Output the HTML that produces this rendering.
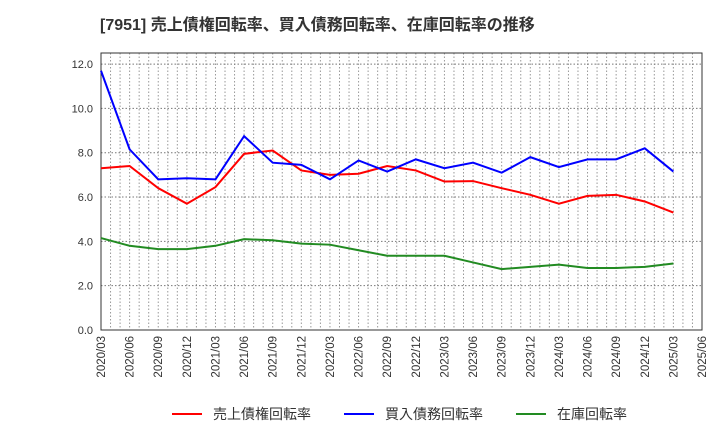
<!DOCTYPE html>
<html><head><meta charset="utf-8"><style>
body{margin:0;background:#fff;font-family:"Liberation Sans","Noto Sans CJK JP",sans-serif}
svg text{font-family:"Liberation Sans","Noto Sans CJK JP",sans-serif}
</style></head><body>
<svg id="c" width="720" height="440">
<text x="100" y="30" font-size="16" font-weight="bold" fill="#333">[7951]  売上債権回転率、買入債務回転率、在庫回転率の推移</text>
</svg>
<script>
const labels=["2020/03","2020/06","2020/09","2020/12","2021/03","2021/06","2021/09","2021/12","2022/03","2022/06","2022/09","2022/12","2023/03","2023/06","2023/09","2023/12","2024/03","2024/06","2024/09","2024/12","2025/03","2025/06"];
const yTicks=[0,2,4,6,8,10,12];
const receivables=[7.3,7.4,6.4,5.7,6.45,7.95,8.1,7.2,7.0,7.05,7.4,7.2,6.7,6.72,6.4,6.1,5.7,6.05,6.1,5.8,5.3];
const payables=[11.7,8.15,6.8,6.85,6.8,8.75,7.55,7.45,6.8,7.65,7.15,7.7,7.3,7.55,7.1,7.8,7.35,7.7,7.7,8.2,7.15];
const inventory=[4.15,3.8,3.65,3.65,3.8,4.1,4.05,3.9,3.85,3.6,3.35,3.35,3.35,3.05,2.75,2.85,2.95,2.8,2.8,2.85,3.0];
const L=101,R=702,T=53,B=330,ymax=12.5;
const xs=i=>L+(R-L)*i/(labels.length-1);
const ys=v=>B-(B-T)*v/ymax;
const svg=document.getElementById('c');const NS='http://www.w3.org/2000/svg';
function mk(t,a){const e=document.createElementNS(NS,t);for(const k in a)e.setAttribute(k,a[k]);svg.appendChild(e);return e;}
for(let m=0;m<=63;m++){const x=L+(R-L)*m/63;const g=mk('line',{x1:x,x2:x,y1:T,y2:B,stroke:'#999','stroke-dasharray':'1.5,2','stroke-width':1});

}
yTicks.forEach(v=>{const g=mk('line',{x1:L,x2:R,y1:ys(v),y2:ys(v),stroke:'#777','stroke-dasharray':'1.5,2'});


const t=mk('text',{x:L-8,y:ys(v)+4,'font-size':11,'text-anchor':'end',fill:'#333'});t.textContent=v.toFixed(1);

});
labels.forEach((s,i)=>{const t=mk('text',{transform:`translate(${xs(i)+4},${B+6}) rotate(-90)`,'font-size':11.5,'text-anchor':'end',fill:'#333'});t.textContent=s;

});
const fr=mk('rect',{x:L,y:T,width:R-L,height:B-T,fill:'none',stroke:'#333'});


[[receivables,'#ff0000','receivables-line'],[payables,'#0000ff','payables-line'],[inventory,'#228b22','inventory-line']].forEach(([d,c,n])=>{
const p=mk('polyline',{points:d.map((v,i)=>xs(i)+','+ys(v)).join(' '),fill:'none',stroke:c,'stroke-width':2});

});
[['売上債権回転率','#ff0000',172],['買入債務回転率','#0000ff',344],['在庫回転率','#228b22',516]].forEach(([s,c,x])=>{
const l=mk('line',{x1:x,x2:x+30,y1:414,y2:414,stroke:c,'stroke-width':2});


const t=mk('text',{x:x+41,y:419,'font-size':14,fill:'#333'});t.textContent=s;

});
</script>
</body></html>
